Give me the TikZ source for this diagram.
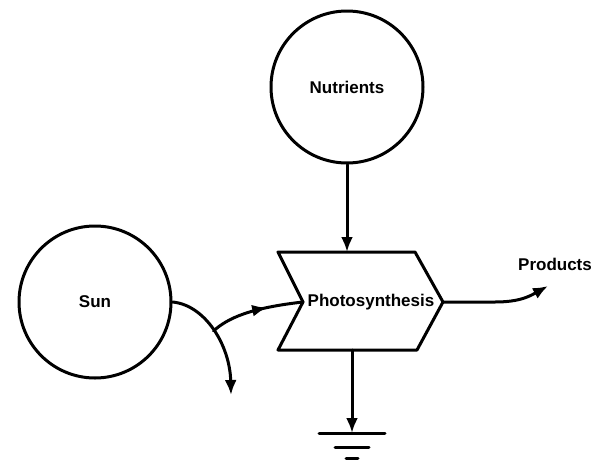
\documentclass[tikz,border=0pt]{standalone}
\usepackage{fontspec}
\setmainfont{Liberation Sans}
\usetikzlibrary{arrows.meta,decorations.markings}
\begin{document}
\begin{tikzpicture}[x=1pt,y=-1pt, line width=3pt, line cap=round, line join=round,
 pool/.style={circle, draw, minimum size=152pt, inner sep=0pt, font=\fontsize{17}{20}\selectfont\bfseries},
 lbl/.style={font=\fontsize{17}{20}\selectfont\bfseries, inner sep=0pt},
 tip/.style={-{Latex[length=15pt,width=12pt]}},
 midtip/.style={postaction={decorate}, decoration={markings, mark=at position #1 with {\arrow{Latex[length=15pt,width=12pt]}}}},
]
\useasboundingbox (0,0) rectangle (600,461);
\node[pool] (nut) at (347,87) {Nutrients};
\node[pool] (sun) at (95,302) {Sun};
% process chevron
\draw (278,252) -- (415,252) -- (443,302) -- (417,350) -- (278,350) -- (303,302) -- cycle;
\node[lbl] (photo) at (371,302) {Photosynthesis};
\coordinate (pin) at (303,302);
\coordinate (pout) at (443,302);
\coordinate (ptop) at (347,252);
\coordinate (pbot) at (352,350);
% nutrients in
\draw[tip] (nut.south) -- (ptop);
% sun flow
\draw[tip] (sun.east) .. controls (205,305) and (230,345) .. (231,395) coordinate[pos=0.5] (br);
\draw[midtip=0.62] (br) .. controls (228,318) and (250,308) .. (pin);
% products
\node[lbl] (prod) at (555,264) {Products};
\coordinate (pe) at (548,286);
\draw[tip] (pout) -- (495,302) .. controls (520,302) and (530,296) .. (pe);
% heat sink
\coordinate (gnd) at (352,433);
\draw[tip] (pbot) -- (gnd);
\draw (gnd) ++(-33,0) -- ++(66,0);
\draw (gnd) ++(-17,14) -- ++(34,0);
\draw (gnd) ++(-6,25) -- ++(12,0);
\end{tikzpicture}
\end{document}
